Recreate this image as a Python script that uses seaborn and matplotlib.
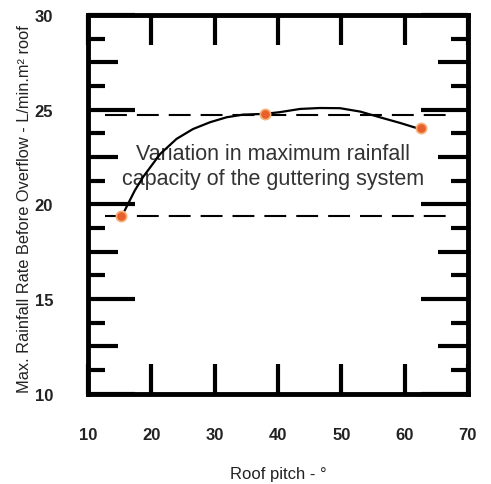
import numpy as np
import matplotlib
matplotlib.use('Agg')
import matplotlib.pyplot as plt
from matplotlib.ticker import FixedLocator
import seaborn as sns

# Values
pitch = [15.3, 37.9, 62.6]
rate = [19.4, 24.78, 24.02]

curve_pitch = [15.8, 17.4, 18.7, 21.4, 24.0, 26.6, 29.3, 31.9, 34.5, 37.9,
               40.3, 43.5, 46.6, 49.8, 53.0, 56.1, 59.3, 62.4]
curve_rate = [19.67, 20.73, 21.44, 22.66, 23.46, 23.98, 24.34, 24.6, 24.74, 24.78,
              24.87, 25.04, 25.09, 25.08, 24.9, 24.6, 24.3, 23.98]

band_levels = [24.74, 19.41]
band_from, band_to = 12.7, 67.5

x_ticks = [10, 20, 30, 40, 50, 60, 70]
y_ticks = [10, 15, 20, 25, 30]
y_minor = [11.25, 12.5, 13.75, 16.25, 17.5, 18.75, 21.25, 22.5, 23.75, 26.25, 27.5, 28.75]

note = "Variation in maximum rainfall\ncapacity of the guttering system"

sns.set_style('white')
plt.rcParams['font.family'] = ['Liberation Sans', 'DejaVu Sans']

fig = plt.figure(figsize=(4.91, 4.85), dpi=100)
ax = fig.add_axes([0.179, 0.186, 0.774, 0.781])

# band of maximum capacity
ax.hlines(band_levels, band_from, band_to, colors='black', linewidth=1.5,
          linestyles=(0, (10.5, 4.8)), zorder=2)

sns.lineplot(x=curve_pitch, y=curve_rate, ax=ax, color='black', linewidth=1.6,
             sort=False, zorder=3)
sns.scatterplot(x=pitch, y=rate, ax=ax, color='#e8602c', s=55,
                edgecolor='#f6b27a', linewidth=1.2, zorder=4)

ax.text(39.3, 22.03, note, ha='center', va='center', fontsize=15.5,
        color='#333333', linespacing=1.2, zorder=1)

ax.set_xlim(10, 70)
ax.set_ylim(10, 30)

for s in ax.spines.values():
    s.set_visible(True)
    s.set_color('black')
    s.set_linewidth(3.5)

ax.xaxis.set_major_locator(FixedLocator(x_ticks))
ax.yaxis.set_major_locator(FixedLocator(y_ticks))
ax.yaxis.set_minor_locator(FixedLocator(y_minor))

ax.tick_params(axis='x', which='major', direction='in', length=21.6, width=3,
               top=True, bottom=True, pad=24, labelsize=12, labelcolor='#222222',
               color='black')
ax.tick_params(axis='y', which='major', direction='in', length=34, width=3,
               left=True, right=True, pad=25, labelsize=12, labelcolor='#222222',
               color='black')
ax.tick_params(axis='y', which='minor', direction='in', length=12, width=3,
               left=True, right=True, color='black')

# middle-length ticks at the half-way points
for loc, tick in zip(y_minor, ax.yaxis.get_minor_ticks(len(y_minor))):
    if abs((loc / 2.5) - round(loc / 2.5)) < 1e-6:
        tick.tick1line.set_markersize(21.6)
        tick.tick2line.set_markersize(21.6)

for lab in ax.get_xticklabels() + ax.get_yticklabels():
    lab.set_fontweight('bold')

ax.set_xlabel('Roof pitch - °', fontsize=12, color='#222222')
ax.set_ylabel('Max. Rainfall Rate Before Overflow - L/min.m² roof', fontsize=11.8,
              color='#222222')
ax.xaxis.set_label_coords(0.5, -0.19)
ax.yaxis.set_label_coords(-0.147, 0.49)

fig.savefig('out.png', dpi=100)
